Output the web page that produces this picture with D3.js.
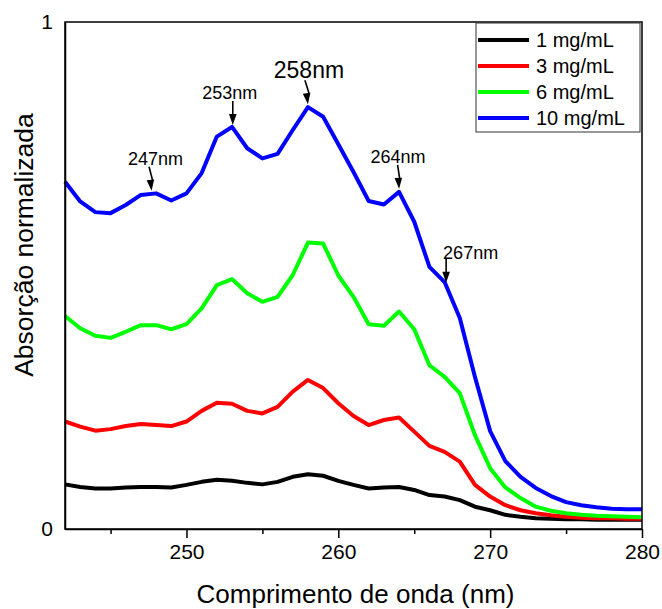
<!DOCTYPE html>
<html>
<head>
<meta charset="utf-8">
<script src="https://cdn.jsdelivr.net/npm/d3@7"></script>
<style>
  html, body { margin: 0; padding: 0; background: #fff; }
  svg { display: block; font-family: "Liberation Sans", Arial, sans-serif; }
</style>
</head>
<body>
<svg id="chart" width="662" height="609"></svg>
<script>
// Wavelengths (nm), one reading per nanometre
const wavelengths = d3.range(242, 281);

// Normalised absorbance for each concentration
const abs1 = [0.088, 0.083, 0.080, 0.080, 0.082, 0.083, 0.083, 0.082, 0.087, 0.093,
              0.097, 0.095, 0.091, 0.088, 0.093, 0.103, 0.108, 0.105, 0.095, 0.087,
              0.080, 0.082, 0.083, 0.077, 0.067, 0.064, 0.057, 0.044, 0.037, 0.028,
              0.024, 0.021, 0.020, 0.019, 0.019, 0.018, 0.018, 0.018, 0.018];
const abs3 = [0.212, 0.202, 0.194, 0.197, 0.203, 0.207, 0.205, 0.203, 0.212, 0.233,
              0.249, 0.247, 0.233, 0.228, 0.241, 0.271, 0.294, 0.278, 0.248, 0.223,
              0.205, 0.215, 0.220, 0.192, 0.164, 0.152, 0.133, 0.087, 0.064, 0.047,
              0.037, 0.031, 0.027, 0.024, 0.022, 0.021, 0.021, 0.020, 0.020];
const abs6 = [0.420, 0.396, 0.381, 0.377, 0.389, 0.402, 0.402, 0.394, 0.404, 0.435,
              0.481, 0.493, 0.465, 0.448, 0.458, 0.501, 0.565, 0.563, 0.500, 0.458,
              0.404, 0.401, 0.429, 0.394, 0.323, 0.300, 0.268, 0.185, 0.120, 0.082,
              0.061, 0.044, 0.036, 0.031, 0.028, 0.026, 0.025, 0.024, 0.023];
const abs10 = [0.685, 0.646, 0.625, 0.623, 0.639, 0.659, 0.662, 0.648, 0.662, 0.702,
               0.774, 0.793, 0.751, 0.731, 0.740, 0.787, 0.832, 0.813, 0.759, 0.704,
               0.647, 0.640, 0.665, 0.606, 0.517, 0.487, 0.416, 0.300, 0.193, 0.134,
               0.103, 0.081, 0.065, 0.053, 0.047, 0.043, 0.040, 0.039, 0.039];

const seriesNames = ["1 mg/mL", "3 mg/mL", "6 mg/mL", "10 mg/mL"];
const seriesValues = [abs1, abs3, abs6, abs10];

// Axis ticks
const xMajorTicks = [250, 260, 270, 280];
const xMinorTicks = [245, 255, 265, 275];
const yTicks = [0, 1];

// Marked peaks on the 10 mg/mL spectrum
const peakLabels = ["247nm", "253nm", "258nm", "264nm", "267nm"];
const peakWavelengths = [247.7, 253.05, 258.0, 264.0, 267.1];

// ---- drawing ----
const svg = d3.select("#chart");
const plot = { left: 65, right: 642, top: 22, bottom: 529 };
const colors = ["#000000", "#ff0000", "#00ff00", "#0000ff"];

const x = d3.scaleLinear().domain([242, 280]).range([plot.left, plot.right]);
const y = d3.scaleLinear().domain([0, 1]).range([plot.bottom, plot.top]);

// spectra
const line = d3.line()
  .x(d => x(d[0]))
  .y(d => y(d[1]))
  .curve(d3.curveLinear);

seriesValues.forEach((vals, i) => {
  svg.append("path")
    .datum(wavelengths.map((w, j) => [w, vals[j]]))
    .attr("d", line)
    .attr("fill", "none")
    .attr("stroke", colors[i])
    .attr("stroke-width", 4)
    .attr("stroke-linejoin", "round")
    .attr("stroke-linecap", "butt");
});

// frame
svg.append("rect")
  .attr("x", plot.left).attr("y", plot.top)
  .attr("width", plot.right - plot.left)
  .attr("height", plot.bottom - plot.top)
  .attr("fill", "none")
  .attr("stroke", "#000")
  .attr("stroke-width", 1.5);

// x axis
const xAxis = d3.axisBottom(x)
  .tickValues(xMajorTicks)
  .tickSizeInner(9)
  .tickSizeOuter(0)
  .tickPadding(6)
  .tickFormat(d3.format("d"));
const gx = svg.append("g")
  .attr("transform", `translate(0,${plot.bottom})`)
  .call(xAxis);
gx.select(".domain").attr("stroke-width", 1.5);
gx.selectAll(".tick line").attr("stroke-width", 1.5);
gx.selectAll(".tick text")
  .attr("font-size", 21)
  .attr("font-family", "Liberation Sans, Arial, sans-serif")
  .attr("fill", "#000");

const xMinor = d3.axisBottom(x)
  .tickValues(xMinorTicks)
  .tickSizeInner(5)
  .tickSizeOuter(0)
  .tickFormat("");
const gxm = svg.append("g")
  .attr("transform", `translate(0,${plot.bottom})`)
  .call(xMinor);
gxm.select(".domain").remove();
gxm.selectAll(".tick line").attr("stroke-width", 1.5);

// y axis
const yAxis = d3.axisLeft(y)
  .tickValues(yTicks)
  .tickSize(0)
  .tickPadding(12)
  .tickFormat(d3.format("d"));
const gy = svg.append("g")
  .attr("transform", `translate(${plot.left},0)`)
  .call(yAxis);
gy.select(".domain").attr("stroke-width", 1.5);
gy.selectAll(".tick text")
  .attr("font-size", 21)
  .attr("font-family", "Liberation Sans, Arial, sans-serif")
  .attr("fill", "#000");

// axis titles
svg.append("text")
  .attr("x", (plot.left + plot.right) / 2 + 2)
  .attr("y", 603)
  .attr("text-anchor", "middle")
  .attr("font-size", 26)
  .attr("fill", "#000")
  .text("Comprimento de onda (nm)");

svg.append("text")
  .attr("transform", "translate(33,245) rotate(-90)")
  .attr("text-anchor", "middle")
  .attr("font-size", 26.5)
  .attr("fill", "#000")
  .text("Absorção normalizada");

// legend
const legend = svg.append("g");
legend.append("rect")
  .attr("x", 476).attr("y", 23)
  .attr("width", 164).attr("height", 109)
  .attr("fill", "#fff")
  .attr("stroke", "#333")
  .attr("stroke-width", 1);
seriesNames.forEach((name, i) => {
  const ly = 40 + i * 26;
  legend.append("line")
    .attr("x1", 478).attr("x2", 529)
    .attr("y1", ly).attr("y2", ly)
    .attr("stroke", colors[i])
    .attr("stroke-width", 4);
  legend.append("text")
    .attr("x", 536).attr("y", ly + 6.5)
    .attr("font-size", 20)
    .attr("fill", "#000")
    .text(name);
});

// peak annotations: label placement relative to the arrow tip
const peakStyle = [
  { size: 18, dx: 4,  anchor: "middle", tilt: -2.5 },
  { size: 18, dx: -3, anchor: "middle", tilt: 0 },
  { size: 23, dx: 1,  anchor: "middle", tilt: -3 },
  { size: 18, dx: -1, anchor: "middle", tilt: -1.5 },
  { size: 18, dx: -3, anchor: "start",  tilt: 0 }
];
const blueAt = d3.scaleLinear().domain(wavelengths).range(abs10);
const arrowLen = 24, headLen = 11, headHalf = 3.8;

peakLabels.forEach((label, i) => {
  const s = peakStyle[i];
  const w = peakWavelengths[i];
  const tipX = x(w);
  const tipY = y(blueAt(w)) - 3;
  const tailX = tipX + s.tilt;
  const tailY = tipY - arrowLen;
  const g = svg.append("g");
  // shaft
  g.append("line")
    .attr("x1", tailX).attr("y1", tailY)
    .attr("x2", tipX - s.tilt * headLen / arrowLen).attr("y2", tipY - headLen + 1)
    .attr("stroke", "#000").attr("stroke-width", 1.6);
  // head
  const ang = Math.atan2(tipY - tailY, tipX - tailX);
  const bx = tipX - headLen * Math.cos(ang), by = tipY - headLen * Math.sin(ang);
  const px = -Math.sin(ang) * headHalf, py = Math.cos(ang) * headHalf;
  g.append("path")
    .attr("d", `M${tipX},${tipY}L${bx + px},${by + py}L${bx - px},${by - py}Z`)
    .attr("fill", "#000");
  // label
  g.append("text")
    .attr("x", tipX + s.dx)
    .attr("y", tailY - (s.anchor === "start" ? 0 : 2))
    .attr("text-anchor", s.anchor)
    .attr("font-size", s.size)
    .attr("fill", "#000")
    .text(label);
});
</script>
</body>
</html>
